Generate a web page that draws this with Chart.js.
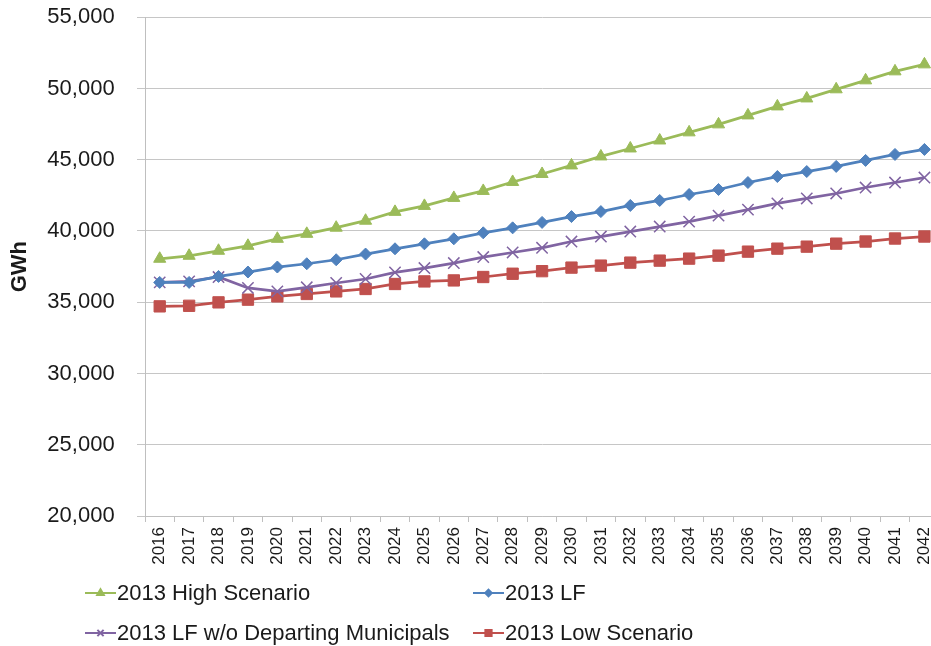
<!DOCTYPE html>
<html>
<head>
<meta charset="utf-8">
<script src="https://cdn.jsdelivr.net/npm/chart.js@4.4.1/dist/chart.umd.min.js"></script>
<style>
  html, body { margin: 0; padding: 0; background: #fff; overflow: hidden; }
  #wrap { width: 931px; height: 646px; overflow: hidden; }
</style>
</head>
<body>
<div id="wrap"><canvas id="chart" width="950" height="646"></canvas></div>
<script>
const years = ['2016','2017','2018','2019','2020','2021','2022','2023','2024','2025','2026','2027','2028','2029',
               '2030','2031','2032','2033','2034','2035','2036','2037','2038','2039','2040','2041','2042'];

const highScenario = [38050, 38260, 38610, 38960, 39450, 39800, 40230, 40720, 41340, 41760, 42320, 42810, 43440, 44000,
                      44600, 45230, 45790, 46350, 46920, 47480, 48110, 48740, 49300, 49940, 50570, 51200, 51690];
const lf           = [36390, 36390, 36810, 37120, 37470, 37700, 37980, 38380, 38750, 39100, 39450, 39870, 40220, 40600,
                      41010, 41360, 41790, 42140, 42560, 42910, 43400, 43820, 44170, 44530, 44950, 45370, 45720];
const lfNoMunis    = [36390, 36460, 36770, 36000, 35760, 36050, 36350, 36630, 37090, 37400, 37750, 38170, 38490, 38820,
                      39260, 39610, 39960, 40310, 40660, 41080, 41500, 41930, 42280, 42630, 43050, 43400, 43750];
const lowScenario  = [34710, 34750, 34990, 35180, 35410, 35580, 35760, 35930, 36280, 36460, 36530, 36770, 37000, 37180,
                      37430, 37570, 37780, 37920, 38060, 38270, 38550, 38760, 38900, 39110, 39260, 39470, 39610];

const yMin = 20000, yMax = 55000, yStep = 5000;

const FONT = '"Liberation Sans", Arial, sans-serif';

// ── legend drawn on the canvas in two columns, like the original ─────────────
const gridLegend = {
  id: 'gridLegend',
  afterDraw(chart) {
    const ctx = chart.ctx;
    const cols = [85, 473];
    const rows = [593, 633];
    chart.data.datasets.forEach(function(ds, i) {
      const x = cols[i % 2];
      const y = rows[Math.floor(i / 2)];
      ctx.save();
      ctx.strokeStyle = ds.borderColor;
      ctx.lineWidth = 2;
      ctx.beginPath();
      ctx.moveTo(x, y);
      ctx.lineTo(x + 31, y);
      ctx.stroke();
      ctx.fillStyle = ds.pointBackgroundColor;
      ctx.strokeStyle = ds.pointBorderColor;
      Chart.helpers.drawPoint(ctx, {
        pointStyle: ds.pointStyle,
        radius: ds.pointRadius * 0.55,
        borderWidth: ds.pointBorderWidth,
        rotation: 0
      }, x + 15.5, y);
      ctx.fillStyle = '#1a1a1a';
      ctx.font = '22px ' + FONT;
      ctx.textBaseline = 'middle';
      ctx.textAlign = 'left';
      ctx.fillText(ds.label, x + 32, y + 1);
      ctx.restore();
    });
  }
};

function series(label, data, color, style, radius, borderW) {
  return {
    label: label,
    data: data,
    borderColor: color,
    backgroundColor: color,
    borderWidth: 2.75,
    pointStyle: style,
    pointRadius: radius,
    pointHoverRadius: radius,
    pointBackgroundColor: color,
    pointBorderColor: color,
    pointBorderWidth: borderW,
    tension: 0
  };
}

new Chart(document.getElementById('chart'), {
  type: 'line',
  data: {
    labels: years,
    datasets: [
      series('2013 High Scenario', highScenario, '#9BBB59', 'triangle', 7, 1),
      series('2013 LF', lf, '#4F81BD', 'rectRot', 6, 1),
      series('2013 LF w/o Departing Municipals', lfNoMunis, '#8064A2', 'crossRot', 8, 1.5),
      series('2013 Low Scenario', lowScenario, '#C0504D', 'rect', 8, 1)
    ]
  },
  options: {
    responsive: false,
    animation: false,
    layout: { padding: 0 },
    plugins: {
      legend: { display: false },
      tooltip: { enabled: false }
    },
    scales: {
      x: {
        offset: true,
        grid: {
          offset: true,
          drawOnChartArea: false,
          drawTicks: true,
          tickLength: 6,
          color: '#bfbfbf'
        },
        border: { color: '#bfbfbf', width: 1 },
        ticks: {
          autoSkip: false,
          minRotation: 90,
          maxRotation: 90,
          padding: 5,
          color: '#1a1a1a',
          font: { family: FONT, size: 17 }
        },
        afterFit: function(scale) { scale.height = 130; }
      },
      y: {
        min: yMin,
        max: yMax,
        grid: {
          color: '#c6c6c6',
          lineWidth: 1,
          drawTicks: true,
          tickLength: 8
        },
        border: { color: '#bfbfbf', width: 1 },
        ticks: {
          stepSize: yStep,
          padding: 4,
          color: '#1a1a1a',
          font: { family: FONT, size: 22 },
          // trailing spaces push the labels away from the tick marks
          callback: function(v) { return Number(v).toLocaleString('en-US') + '   '; }
        },
        title: {
          display: true,
          text: 'GWh',
          color: '#1a1a1a',
          font: { family: FONT, size: 22, weight: 'bold' },
          padding: { top: 7, bottom: 0 }
        },
        afterFit: function(scale) { scale.width = 145; }
      }
    }
  },
  plugins: [gridLegend]
});
</script>
</body>
</html>
